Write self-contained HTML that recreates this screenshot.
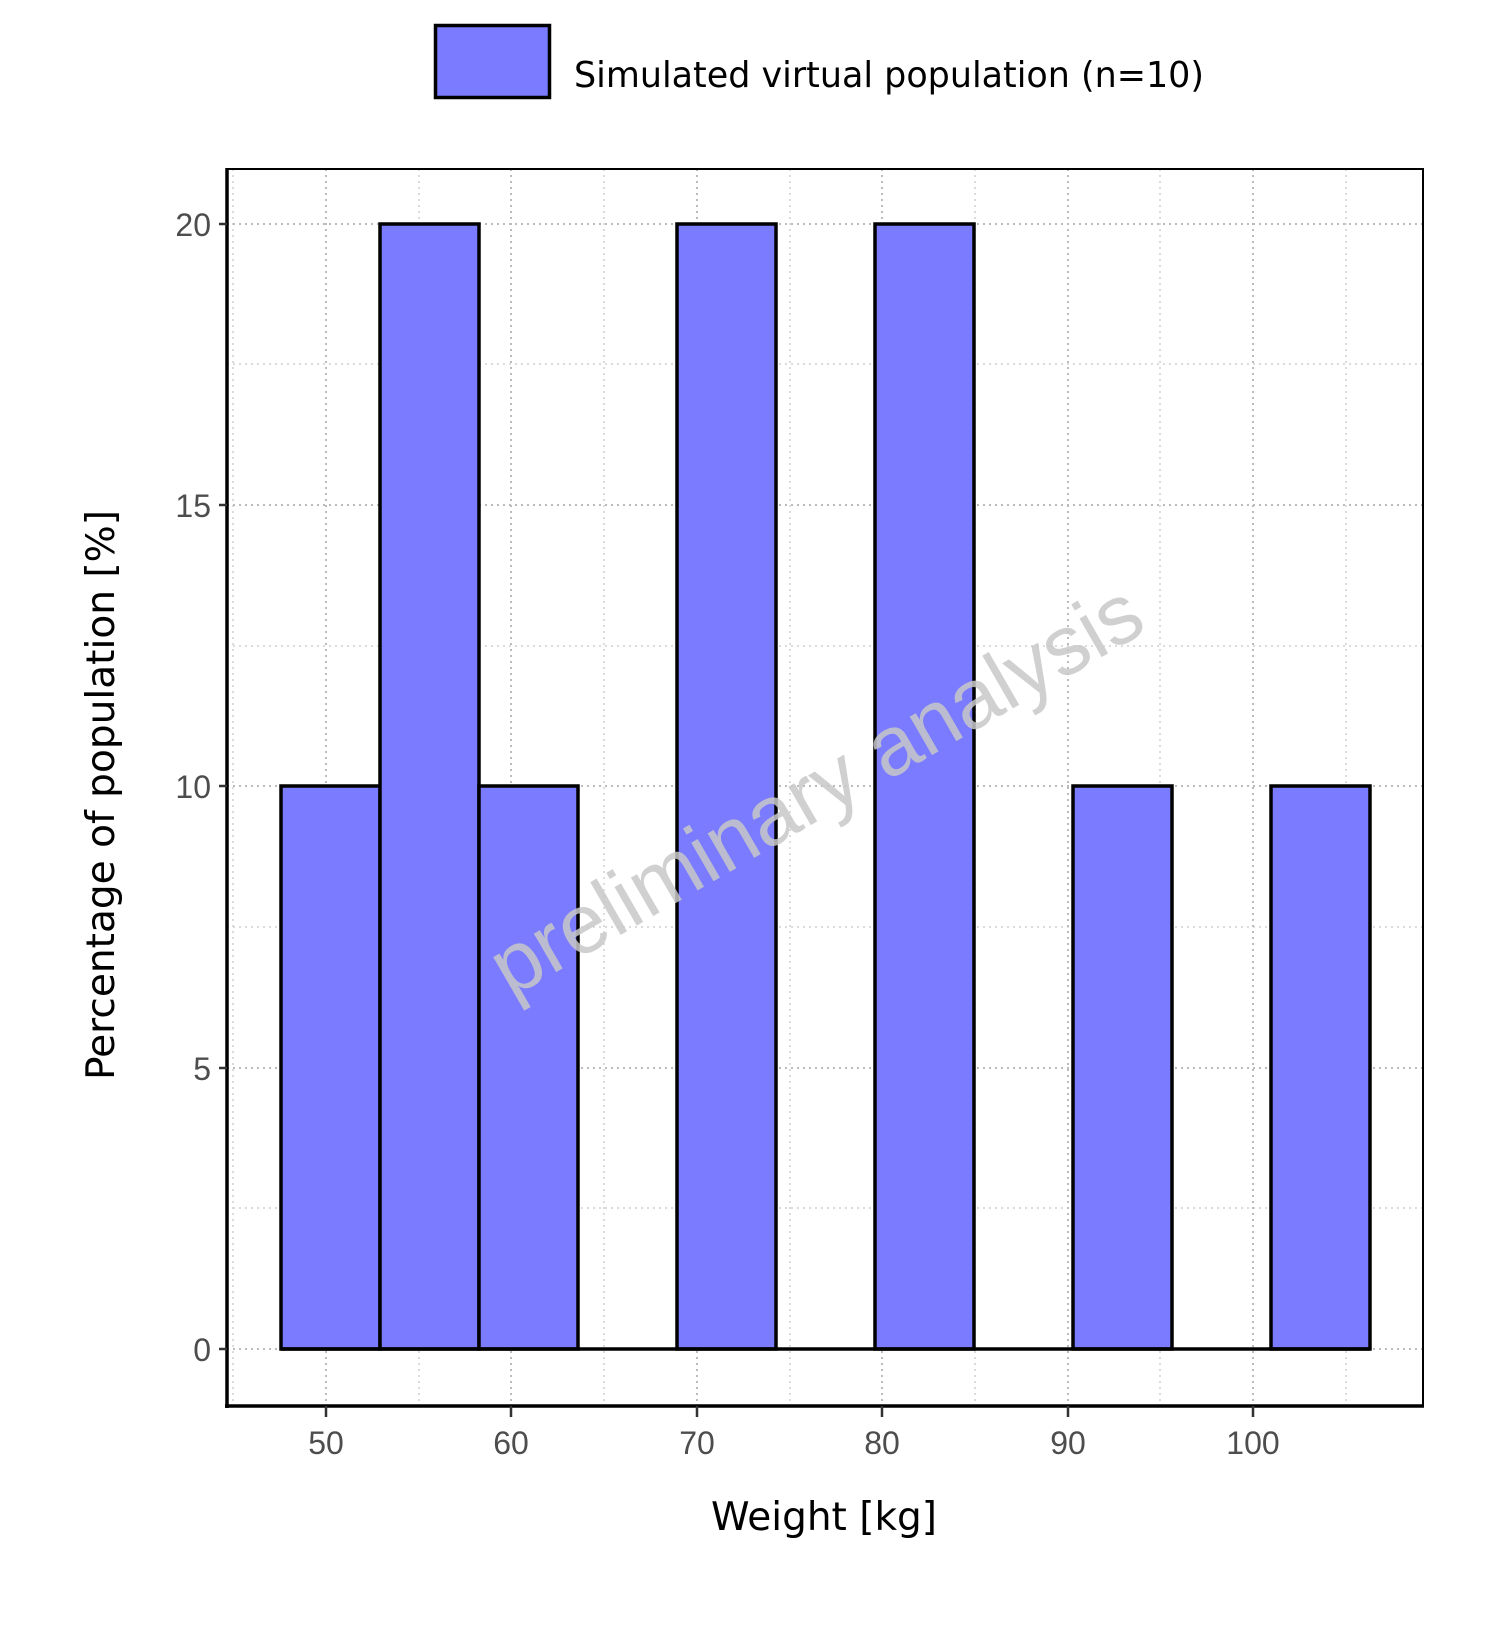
<!DOCTYPE html>
<html><head><meta charset="utf-8"><style>body{margin:0;background:#fff}</style></head><body>
<svg width="1500" height="1624" xmlns="http://www.w3.org/2000/svg" font-family="Liberation Sans, DejaVu Sans, sans-serif">
<rect width="1500" height="1624" fill="#fff"/>
<!-- legend -->
<rect x="435.5" y="25.5" width="114" height="72" fill="#7b7bff" stroke="#000" stroke-width="3.5"/>
<text x="574" y="87" font-size="36" fill="#000" font-family="DejaVu Sans, sans-serif" textLength="630" lengthAdjust="spacingAndGlyphs">Simulated virtual population (n=10)</text>
<!-- grid -->
<g stroke="#d0d0d0" stroke-width="1.5" stroke-dasharray="2,4">
<line x1="233" y1="169" x2="233" y2="1405"/><line x1="419" y1="169" x2="419" y2="1405"/><line x1="604" y1="169" x2="604" y2="1405"/><line x1="790" y1="169" x2="790" y2="1405"/><line x1="975" y1="169" x2="975" y2="1405"/><line x1="1160" y1="169" x2="1160" y2="1405"/><line x1="1346" y1="169" x2="1346" y2="1405"/>
<line x1="227" y1="1208" x2="1423" y2="1208"/><line x1="227" y1="927" x2="1423" y2="927"/><line x1="227" y1="646" x2="1423" y2="646"/><line x1="227" y1="364" x2="1423" y2="364"/>
</g>
<g stroke="#bbb" stroke-width="2" stroke-dasharray="2,4">
<line x1="326" y1="169" x2="326" y2="1405"/><line x1="511" y1="169" x2="511" y2="1405"/><line x1="697" y1="169" x2="697" y2="1405"/><line x1="882" y1="169" x2="882" y2="1405"/><line x1="1068" y1="169" x2="1068" y2="1405"/><line x1="1253" y1="169" x2="1253" y2="1405"/>
<line x1="227" y1="1349" x2="1423" y2="1349"/><line x1="227" y1="1068" x2="1423" y2="1068"/><line x1="227" y1="786" x2="1423" y2="786"/><line x1="227" y1="505" x2="1423" y2="505"/><line x1="227" y1="224" x2="1423" y2="224"/>
</g>
<!-- bars -->
<g fill="#7b7bff" stroke="#000" stroke-width="3.5">
<rect x="281" y="786" width="99" height="563"/>
<rect x="380" y="224" width="99" height="1125"/>
<rect x="479" y="786" width="99" height="563"/>
<rect x="677" y="224" width="99" height="1125"/>
<rect x="875" y="224" width="99" height="1125"/>
<rect x="1073" y="786" width="99" height="563"/>
<rect x="1271" y="786" width="99" height="563"/>
<line x1="281" y1="1349" x2="1370" y2="1349"/>
</g>
<!-- watermark -->
<text x="830" y="814" font-size="84" fill="#c8c8c8" fill-opacity="0.85" text-anchor="middle" transform="rotate(-30 830 814)">preliminary analysis</text>
<!-- frame -->
<rect x="227" y="169" width="1196" height="1237" fill="none" stroke="#000" stroke-width="2"/>
<line x1="227" y1="168" x2="227" y2="1408" stroke="#000" stroke-width="3.5"/>
<line x1="225" y1="1406" x2="1424" y2="1406" stroke="#000" stroke-width="3.5"/>
<!-- ticks -->
<g stroke="#333" stroke-width="2.5">
<line x1="219" y1="1349" x2="227" y2="1349"/><line x1="219" y1="1068" x2="227" y2="1068"/><line x1="219" y1="786" x2="227" y2="786"/><line x1="219" y1="505" x2="227" y2="505"/><line x1="219" y1="224" x2="227" y2="224"/>
<line x1="326" y1="1406" x2="326" y2="1417"/><line x1="511" y1="1406" x2="511" y2="1417"/><line x1="697" y1="1406" x2="697" y2="1417"/><line x1="882" y1="1406" x2="882" y2="1417"/><line x1="1068" y1="1406" x2="1068" y2="1417"/><line x1="1253" y1="1406" x2="1253" y2="1417"/>
</g>
<g font-size="32" fill="#4d4d4d" text-anchor="end">
<text x="211" y="1361">0</text><text x="211" y="1080">5</text><text x="211" y="798">10</text><text x="211" y="517">15</text><text x="211" y="236">20</text>
</g>
<g font-size="32" fill="#4d4d4d" text-anchor="middle">
<text x="326" y="1454">50</text><text x="511" y="1454">60</text><text x="697" y="1454">70</text><text x="882" y="1454">80</text><text x="1068" y="1454">90</text><text x="1253" y="1454">100</text>
</g>
<text x="824" y="1530" font-size="39" fill="#000" text-anchor="middle" font-family="DejaVu Sans, sans-serif">Weight [kg]</text>
<text transform="translate(114 795) rotate(-90)" font-size="39" fill="#000" text-anchor="middle" font-family="DejaVu Sans, sans-serif" textLength="570" lengthAdjust="spacingAndGlyphs">Percentage of population [%]</text>
</svg>
</body></html>
